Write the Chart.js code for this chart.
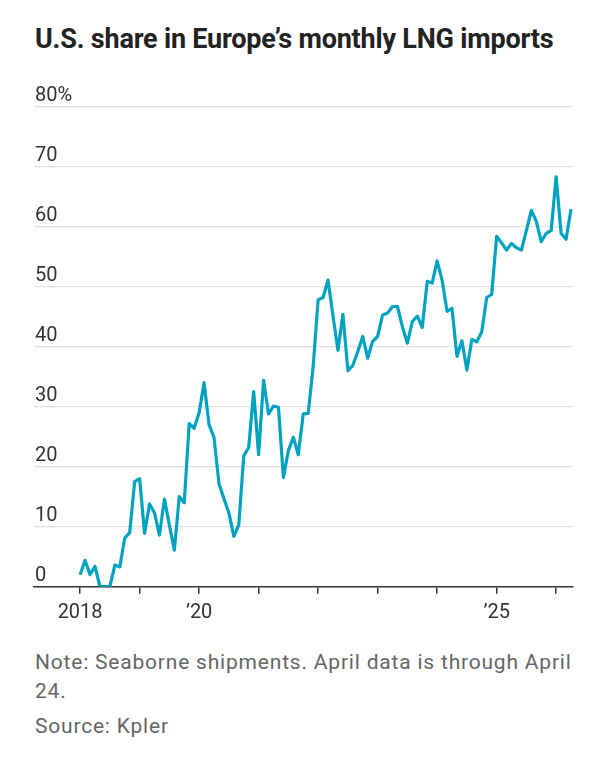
<!DOCTYPE html>
<html>
<head>
<meta charset="utf-8">
<script src="https://cdn.jsdelivr.net/npm/chart.js@4/dist/chart.umd.min.js"></script>
<style>
  body { margin: 0; background: #fff; width: 612px; height: 764px; position: relative; overflow: hidden; }
  h1 { position: absolute; left: 35px; top: 23px; margin: 0; font: bold 27px "Roboto", sans-serif; color: #222; letter-spacing: -0.2px; }
  #wrap { position: absolute; left: 0; top: 80px; width: 612px; height: 560px; }
  .foot { position: absolute; left: 35px; margin: 0; font: 21px "Roboto", sans-serif; color: #666; line-height: 29px; letter-spacing: 0.8px; white-space: nowrap; }
</style>
</head>
<body>
<h1>U.S. share in Europe’s monthly LNG imports</h1>
<div id="wrap"><canvas id="chart"></canvas></div>
<p class="foot" style="top: 648px;">Note: Seaborne shipments. April data is through April<br>24.</p>
<p class="foot" style="top: 712px;">Source: Kpler</p>
<script>
// monthly, Jan 2018 .. Apr 2026
const startYear = 2018;
const shareValues = [
  2, 4.4, 2, 3.4, 0, 0, 0, 3.6, 3.3, 8.1, 9, 17.5,
  18, 8.9, 13.8, 12.3, 8.6, 14.6, 10.3, 6.1, 15, 14, 27.2, 26.4,
  29, 34, 27, 24.9, 17.2, 14.7, 12.3, 8.4, 10.3, 21.8, 23.2, 32.5,
  22, 34.4, 28.8, 30.1, 29.9, 18.2, 22.7, 24.9, 22, 28.8, 28.9, 36.7,
  47.8, 48.2, 51.1, 45.1, 39.4, 45.4, 36, 36.9, 39.2, 41.7, 38.1, 40.9,
  41.7, 45.3, 45.6, 46.7, 46.7, 43.3, 40.6, 44.2, 45.1, 43.2, 50.9, 50.6,
  54.3, 51.1, 45.9, 46.4, 38.4, 41, 36.1, 41.2, 40.8, 42.5, 48.2, 48.7,
  58.4, 57.3, 56.1, 57.2, 56.5, 56.1, 59.4, 62.7, 60.9, 57.5, 58.9, 59.4,
  68.3, 58.9, 57.9, 62.9
];
const months = shareValues.map((v, i) => (startYear + Math.floor(i / 12)) + "-" + String(i % 12 + 1).padStart(2, "0"));
const yearTicks = [0, 12, 24, 36, 48, 60, 72, 84, 96];
const yearLabels = ["2018", "", "’20", "", "", "", "", "’25", ""];
const yTicks = [0, 10, 20, 30, 40, 50, 60, 70, 80];
const yLabels = ["0", "10", "20", "30", "40", "50", "60", "70", "80%"];

const FONT = '"Roboto", sans-serif';

const yLabelPlugin = {
  id: "yLabels",
  afterDraw(chart) {
    const ctx = chart.ctx;
    const y = chart.scales.y;
    ctx.save();
    ctx.font = "20px " + FONT;
    ctx.fillStyle = "#333";
    ctx.textAlign = "left";
    ctx.textBaseline = "alphabetic";
    yTicks.forEach((v, k) => {
      ctx.fillText(yLabels[k], chart.chartArea.left + 1, y.getPixelForValue(v) - 6);
    });
    ctx.restore();
  }
};

new Chart(document.getElementById("chart"), {
  type: "line",
  data: {
    labels: months,
    datasets: [{
      data: shareValues.map((v, i) => ({ x: i, y: v })),
      borderColor: "#00a3bf",
      borderWidth: 3.2,
      pointRadius: 0,
      tension: 0,
      borderJoinStyle: "round"
    }]
  },
  options: {
    responsive: true,
    maintainAspectRatio: false,
    animation: false,
    layout: { padding: { left: 34, right: 39, top: 26.7, bottom: 13.3 } },
    plugins: { legend: { display: false }, tooltip: { enabled: false } },
    scales: {
      x: {
        type: "linear",
        min: -9.3,
        max: 99.4,
        afterBuildTicks: s => { s.ticks = yearTicks.map(v => ({ value: v })); },
        afterFit: s => { s.height = 40; },
        ticks: {
          autoSkip: false,
          maxRotation: 0,
          padding: 7,
          color: "#333",
          font: { family: FONT, size: 20 },
          callback: v => yearLabels[yearTicks.indexOf(v)]
        },
        grid: { drawOnChartArea: false, tickLength: 7, color: "#333", lineWidth: 1.5 },
        border: { color: "#333", width: 1.5 }
      },
      y: {
        min: 0,
        max: 80,
        afterBuildTicks: s => { s.ticks = yTicks.map(v => ({ value: v })); },
        afterFit: s => { s.width = 0; },
        ticks: { display: false },
        grid: { color: c => c.tick.value === 0 ? "rgba(0,0,0,0)" : "#e2e2e2", lineWidth: 1.2, drawTicks: false },
        border: { display: false }
      }
    }
  },
  plugins: [yLabelPlugin]
});
</script>
</body>
</html>
